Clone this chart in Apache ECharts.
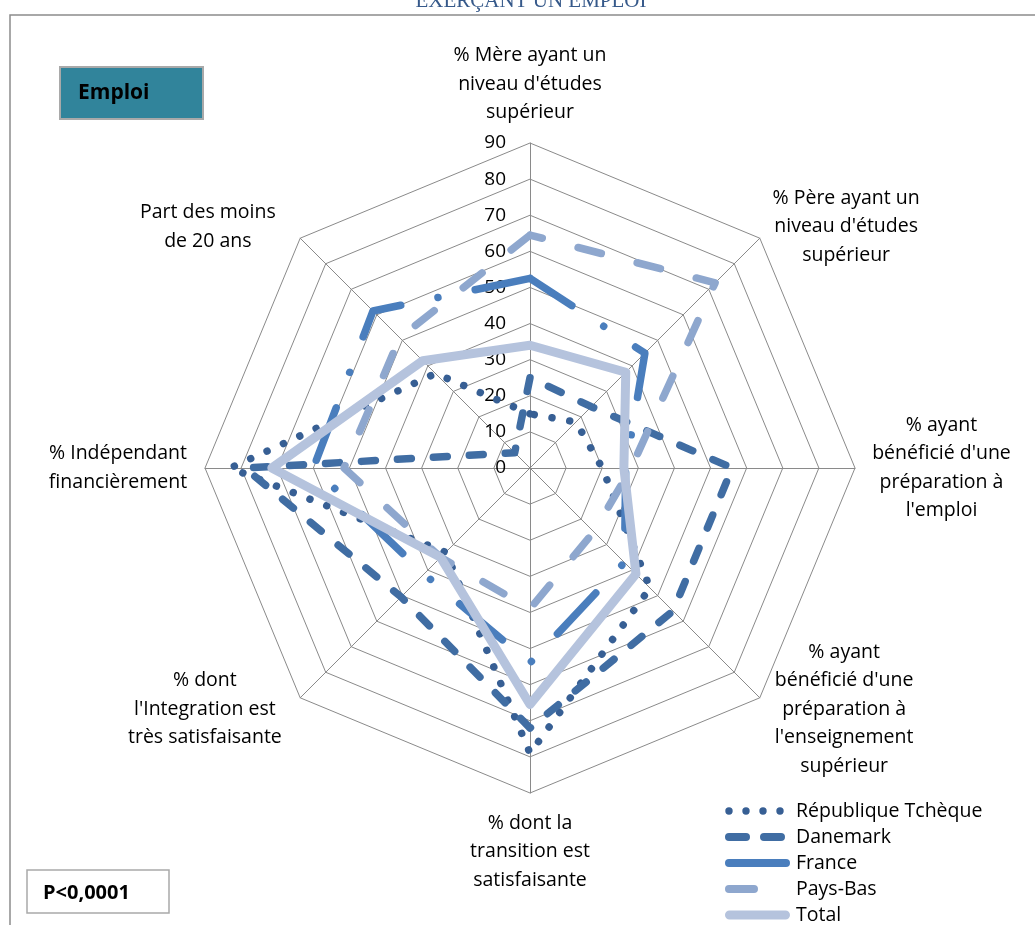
<!DOCTYPE html>
<html>
<head>
<meta charset="utf-8">
<script src="https://cdn.jsdelivr.net/npm/echarts@6/dist/echarts.min.js"></script>
<style>
  html, body { margin: 0; padding: 0; background: #ffffff; }
  #chart { width: 1035px; height: 925px; }
</style>
</head>
<body>
<div id="chart"></div>
<script>
// Axes, listed clockwise from the top spoke
const axisNames = [
  "% Mère ayant un\nniveau d'études\nsupérieur",
  "% Père ayant un\nniveau d'études\nsupérieur",
  "% ayant\nbénéficié d'une\npréparation à\nl'emploi",
  "% ayant\nbénéficié d'une\npréparation à\nl'enseignement\nsupérieur",
  "% dont la\ntransition est\nsatisfaisante",
  "% dont\nl'Integration est\ntrès satisfaisante",
  "% Indépendant\nfinancièrement",
  "Part des moins\nde 20 ans"
];

const seriesNames = ['République Tchèque', 'Danemark', 'France', 'Pays-Bas', 'Total'];

// Values per country, same order as axisNames
const republiqueTcheque = [15, 18, 20, 47, 79, 33, 83, 37];
const danemark          = [25, 24, 56, 56, 72, 50.5, 79, 6];
const france            = [52.5, 45, 26.5, 37, 54, 41.5, 60, 61.5];
const paysBas           = [64.5, 72.5, 28, 25, 39, 35, 51.5, 51];
const total             = [34, 37.5, 26, 41.5, 65.5, 35, 71.5, 42];

// Radial scale
const radialMin = 0;
const radialMax = 90;
const radialStep = 10;

const allValues = [republiqueTcheque, danemark, france, paysBas, total];

const FONT = 'Open Sans';
const colors = ['#375F94', '#406DA3', '#4A7EBD', '#8EA7CE', '#B5C3DD'];

const lineStyles = [
  { color: colors[0], width: 7.5, type: [0.01, 18], cap: 'round', join: 'round' },
  { color: colors[1], width: 7.5, type: [14, 22], cap: 'round', join: 'round' },
  { color: colors[2], width: 7.5, type: [56, 38, 0.01, 38], cap: 'round', join: 'round' },
  { color: colors[3], width: 7.5, type: [24, 37], cap: 'round', join: 'round' },
  { color: colors[4], width: 9, type: 'solid', cap: 'round', join: 'round' }
];

// ECharts lays radar spokes counter-clockwise; map them so the chart reads clockwise
const drawOrder = [0, 7, 6, 5, 4, 3, 2, 1];

// width of each axis-name block (lines are centred inside it)
const nameBlockWidths = [170, 150, 141, 146, 170, 168, 142, 162];

const rich = {};
nameBlockWidths.forEach(function (w, i) {
  rich['n' + i] = {
    width: w, align: 'center', fontSize: 19.5, lineHeight: 28.5,
    fontFamily: FONT, color: '#000'
  };
});

const indicator = drawOrder.map(function (i, k) {
  const ind = { name: axisNames[i], min: radialMin, max: radialMax, axisIdx: i };
  if (k === 0) {
    ind.axisLabel = {
      show: true, margin: 24, fontSize: 19, fontFamily: FONT, color: '#000',
      formatter: function (v) { return String(Math.round(v)); }
    };
  }
  return ind;
});

// legend icon shapes, drawn in a 66 x 9 box
function pill(x0, x1, y0, y1) {
  const r = (y1 - y0) / 2;
  return 'M' + (x0 + r) + ' ' + y0 + 'H' + (x1 - r) +
    'A' + r + ' ' + r + ' 0 0 1 ' + (x1 - r) + ' ' + y1 +
    'H' + (x0 + r) +
    'A' + r + ' ' + r + ' 0 0 1 ' + (x0 + r) + ' ' + y0 + 'Z';
}
function dot(cx, cy, r) {
  return 'M' + (cx - r) + ' ' + cy +
    'A' + r + ' ' + r + ' 0 1 0 ' + (cx + r) + ' ' + cy +
    'A' + r + ' ' + r + ' 0 1 0 ' + (cx - r) + ' ' + cy + 'Z';
}
// hairline guides at both ends keep every icon on the full 66 x 9 box
const frameMarks = 'M0 0h0.02v9h-0.02Z M65.98 0h0.02v9h-0.02Z';
const legendIcons = [
  'path://' + [dot(4, 4.5, 3.7), dot(21, 4.5, 3.7), dot(38, 4.5, 3.7), dot(55, 4.5, 3.7)].join(' ') + ' ' + frameMarks,
  'path://' + pill(0, 25, 0.5, 8.5) + ' ' + pill(35, 60, 0.5, 8.5) + ' ' + frameMarks,
  'path://' + pill(0, 65, 0.5, 8.5) + ' ' + frameMarks,
  'path://' + pill(0, 33, 0.5, 8.5) + ' ' + frameMarks,
  'path://' + pill(0, 65, 0, 9) + ' ' + frameMarks
];

const chart = echarts.init(document.getElementById('chart'), null, { renderer: 'canvas' });

const option = {
  animation: false,
  backgroundColor: '#ffffff',
  graphic: [
    {
      type: 'rect', z: -10, silent: true,
      shape: { x: 10, y: 15, width: 1100, height: 1000 },
      style: { fill: 'none', stroke: '#8C8C8C', lineWidth: 1.5 }
    },
    {
      type: 'text', silent: true,
      style: {
        text: 'EXERÇANT UN EMPLOI', x: 531, y: 1.5, fill: '#36598A',
        fontSize: 21, fontFamily: 'Liberation Serif', align: 'center', verticalAlign: 'middle'
      }
    },
    {
      type: 'rect', silent: true,
      shape: { x: 60, y: 67, width: 143, height: 52 },
      style: { fill: '#31849B', stroke: '#A9A9A9', lineWidth: 2 }
    },
    {
      type: 'text', silent: true,
      style: {
        text: 'Emploi', x: 78, y: 93, fill: '#000',
        fontSize: 21, fontWeight: 'bold', fontFamily: FONT, align: 'left', verticalAlign: 'middle'
      }
    },
    {
      type: 'rect', silent: true,
      shape: { x: 27, y: 870, width: 142, height: 43 },
      style: { fill: '#ffffff', stroke: '#A9A9A9', lineWidth: 1.5 }
    },
    {
      type: 'text', silent: true,
      style: {
        text: 'P<0,0001', x: 43, y: 893, fill: '#000',
        fontSize: 20, fontWeight: 'bold', fontFamily: FONT, align: 'left', verticalAlign: 'middle'
      }
    }
  ],
  legend: {
    orient: 'vertical',
    left: 725,
    top: 801,
    itemWidth: 66,
    itemHeight: 9,
    itemGap: 6,
    selectedMode: false,
    padding: 0,
    textStyle: { fontSize: 19.5, lineHeight: 20, fontFamily: FONT, color: '#000' },
    data: seriesNames.map(function (n, k) {
      return { name: n, icon: legendIcons[k], itemStyle: { color: colors[k], borderWidth: 0 } };
    })
  },
  radar: {
    center: [530, 468],
    radius: 325,
    startAngle: 90,
    splitNumber: (radialMax - radialMin) / radialStep,
    shape: 'polygon',
    nameGap: 16,
    axisName: {
      color: '#000',
      fontSize: 19.5,
      fontFamily: FONT,
      lineHeight: 28.5,
      rich: rich,
      formatter: function (name, ind) {
        return name.split('\n').map(function (line) {
          return '{n' + ind.axisIdx + '|' + line + '}';
        }).join('\n');
      }
    },
    indicator: indicator,
    axisLine: { show: true, lineStyle: { color: '#8A8A8A', width: 1 } },
    axisTick: { show: false },
    axisLabel: { show: false },
    splitLine: { show: true, lineStyle: { color: '#8A8A8A', width: 1 } },
    splitArea: { show: false }
  },
  series: seriesNames.map(function (n, k) {
    return {
      type: 'radar',
      name: n,
      symbol: 'none',
      silent: true,
      lineStyle: lineStyles[k],
      itemStyle: { color: colors[k] },
      data: [{ name: n, value: drawOrder.map(function (i) { return allValues[k][i]; }) }]
    };
  })
};

chart.setOption(option);
</script>
</body>
</html>
